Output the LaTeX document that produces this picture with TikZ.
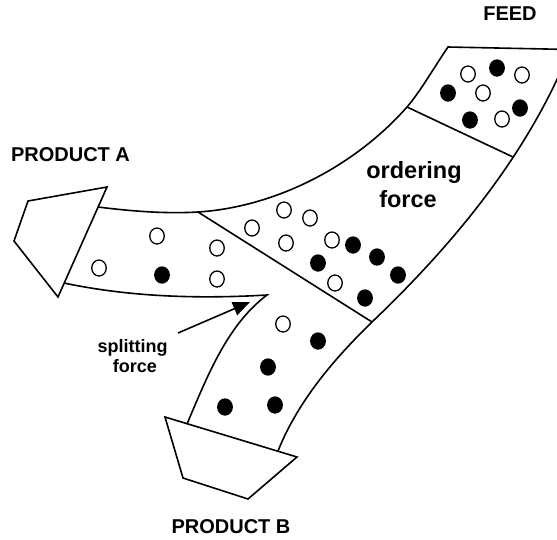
\documentclass[tikz,border=0pt]{standalone}
\usepackage{fontspec}
\setmainfont{Liberation Sans}
\usetikzlibrary{arrows.meta,positioning,shapes.geometric}

\begin{document}
\begin{tikzpicture}[x=1pt,y=-1pt,line width=1.6pt,line join=miter,
  lbl/.style={font=\bfseries\fontsize{20}{24}\selectfont,anchor=base},
  force/.style={font=\bfseries\fontsize{23.5}{28}\selectfont,anchor=base},
  small/.style={font=\bfseries\fontsize{18}{21}\selectfont,anchor=base},
  whitedot/.style={draw,fill=white,ellipse,line width=1.3pt,inner sep=0pt,
    minimum width=14.5pt,minimum height=16pt},
  blackdot/.style={whitedot,fill=black}]
 \useasboundingbox (0,0) rectangle (557,539);
 \clip (0,0) rectangle (557,539);
 % channel walls
 \draw (98,207) .. controls (130,211) and (165,214) .. (198,212)
   .. controls (276,207) and (355,166) .. (407,107)
   .. controls (420,92) and (435,66) .. (448,47) -- (570,49.5)
   .. controls (530,150) and (458,240) .. (372,322)
   .. controls (334,359) and (298,401) .. (278,451);
 \draw (64,283) .. controls (130,297) and (199,299) .. (267,295)
   .. controls (227,325) and (207,377) .. (187,424);
 % zone dividers
 \draw (407,107) -- (513,157);
 \draw (198,212) -- (372,322);
 % outlets
 \draw (107,187) -- (28,201) -- (14,241) -- (58,297) -- cycle;
 \draw (165,417) -- (297,457) -- (248,499) -- (183,478) -- cycle;
 % particles
 \foreach \x/\y [count=\i] in {468/74,522/75,483/93,502/119,
     252/228,284/210,310/218,286/243,332/240,335/283,
     157/236,217/248,99/268,217/279,283/324}
   {\node[whitedot] (w\i) at (\x,\y) {};}
 \foreach \x/\y [count=\i] in {497/68,448/93,520/108,470/120,
     353/245,377/257,398/275,318/263,365/298,
     162/275,318/341,268/367,225/407,275/405}
   {\node[blackdot] (b\i) at (\x,\y) {};}
 % labels
 \node[lbl] (feed) at (510,20) {FEED};
 \node[lbl] (proda) at (70.5,161) {PRODUCT A};
 \node[lbl] (prodb) at (231,533) {PRODUCT B};
 \node[force] (ordering) at (414,178) {ordering};
 \node[force] (orderforce) at (408,207) {force};
 \node[small] (splitting) at (132.5,352) {splitting};
 \node[small] (splitforce) at (135,372) {force};
 \coordinate (splittail) at (178,333);
 \coordinate (splittip) at (250,302);
 \draw[-{Triangle[length=17pt,width=14pt]}] (splittail) -- (splittip);
\end{tikzpicture}
\end{document}
